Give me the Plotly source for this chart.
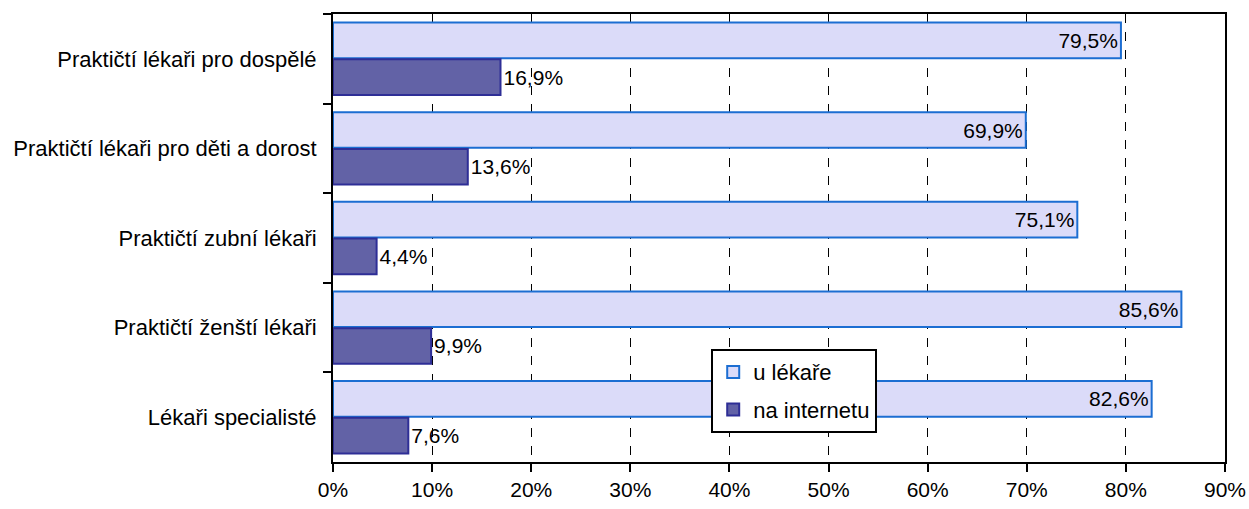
import plotly.graph_objects as go

categories = [
    "Praktičtí lékaři pro dospělé",
    "Praktičtí lékaři pro děti a dorost",
    "Praktičtí zubní lékaři",
    "Praktičtí ženští lékaři",
    "Lékaři specialisté",
]
u_lekare = [79.5, 69.9, 75.1, 85.6, 82.6]
na_internetu = [16.9, 13.6, 4.4, 9.9, 7.6]


def pct(v):
    return f"{v:.1f}%".replace(".", ",")


FONT = "Liberation Sans, Arial, sans-serif"
FS = 21

fig = go.Figure()
fig.add_trace(go.Bar(
    y=categories, x=u_lekare, orientation="h", name="u lékaře",
    legendgroup="a",
    marker=dict(color="#DBDBF9", line=dict(color="#1C6ED2", width=2)),
    text=[pct(v) for v in u_lekare], textposition="inside",
    insidetextanchor="end", textfont=dict(size=FS, color="black"),
))
fig.add_trace(go.Bar(
    y=categories, x=na_internetu, orientation="h", name="na internetu",
    legendgroup="b",
    marker=dict(color="#6262A6", line=dict(color="#2E2E96", width=2)),
    text=[pct(v) for v in na_internetu], textposition="outside",
    textfont=dict(size=FS, color="black"), cliponaxis=False,
))

fig.update_layout(
    width=1249, height=509,
    margin=dict(l=333, r=24, t=14, b=47),
    paper_bgcolor="white", plot_bgcolor="white",
    font=dict(family=FONT, size=FS, color="black"),
    barmode="group", bargap=0.18, bargroupgap=0.03,
    uniformtext=dict(minsize=FS, mode="show"),
    legend=dict(
        x=0.424, y=0.252, xanchor="left", yanchor="top",
        bgcolor="white", bordercolor="black", borderwidth=2,
        font=dict(size=22), itemwidth=30, traceorder="grouped",
        tracegroupgap=6,
    ),
)
fig.update_xaxes(
    range=[0, 90], dtick=10, ticksuffix="%", automargin=False,
    showgrid=True, gridcolor="black", griddash="dash", gridwidth=1,
    showline=True, linecolor="black", linewidth=2, mirror=True,
    ticks="outside", ticklen=8, tickwidth=2, tickcolor="black",
    zeroline=False, tickfont=dict(size=FS),
)
fig.update_yaxes(
    categoryorder="array", categoryarray=categories, autorange="reversed",
    automargin=False,
    showline=True, linecolor="black", linewidth=2, mirror=True,
    ticks="outside", ticklen=8, tickwidth=2, tickcolor="black",
    tickson="boundaries", ticklabelstandoff=10, tickfont=dict(size=22),
)

fig.write_html("out.html", config={"displayModeBar": False},
               post_script="document.body.style.margin = '0';")
